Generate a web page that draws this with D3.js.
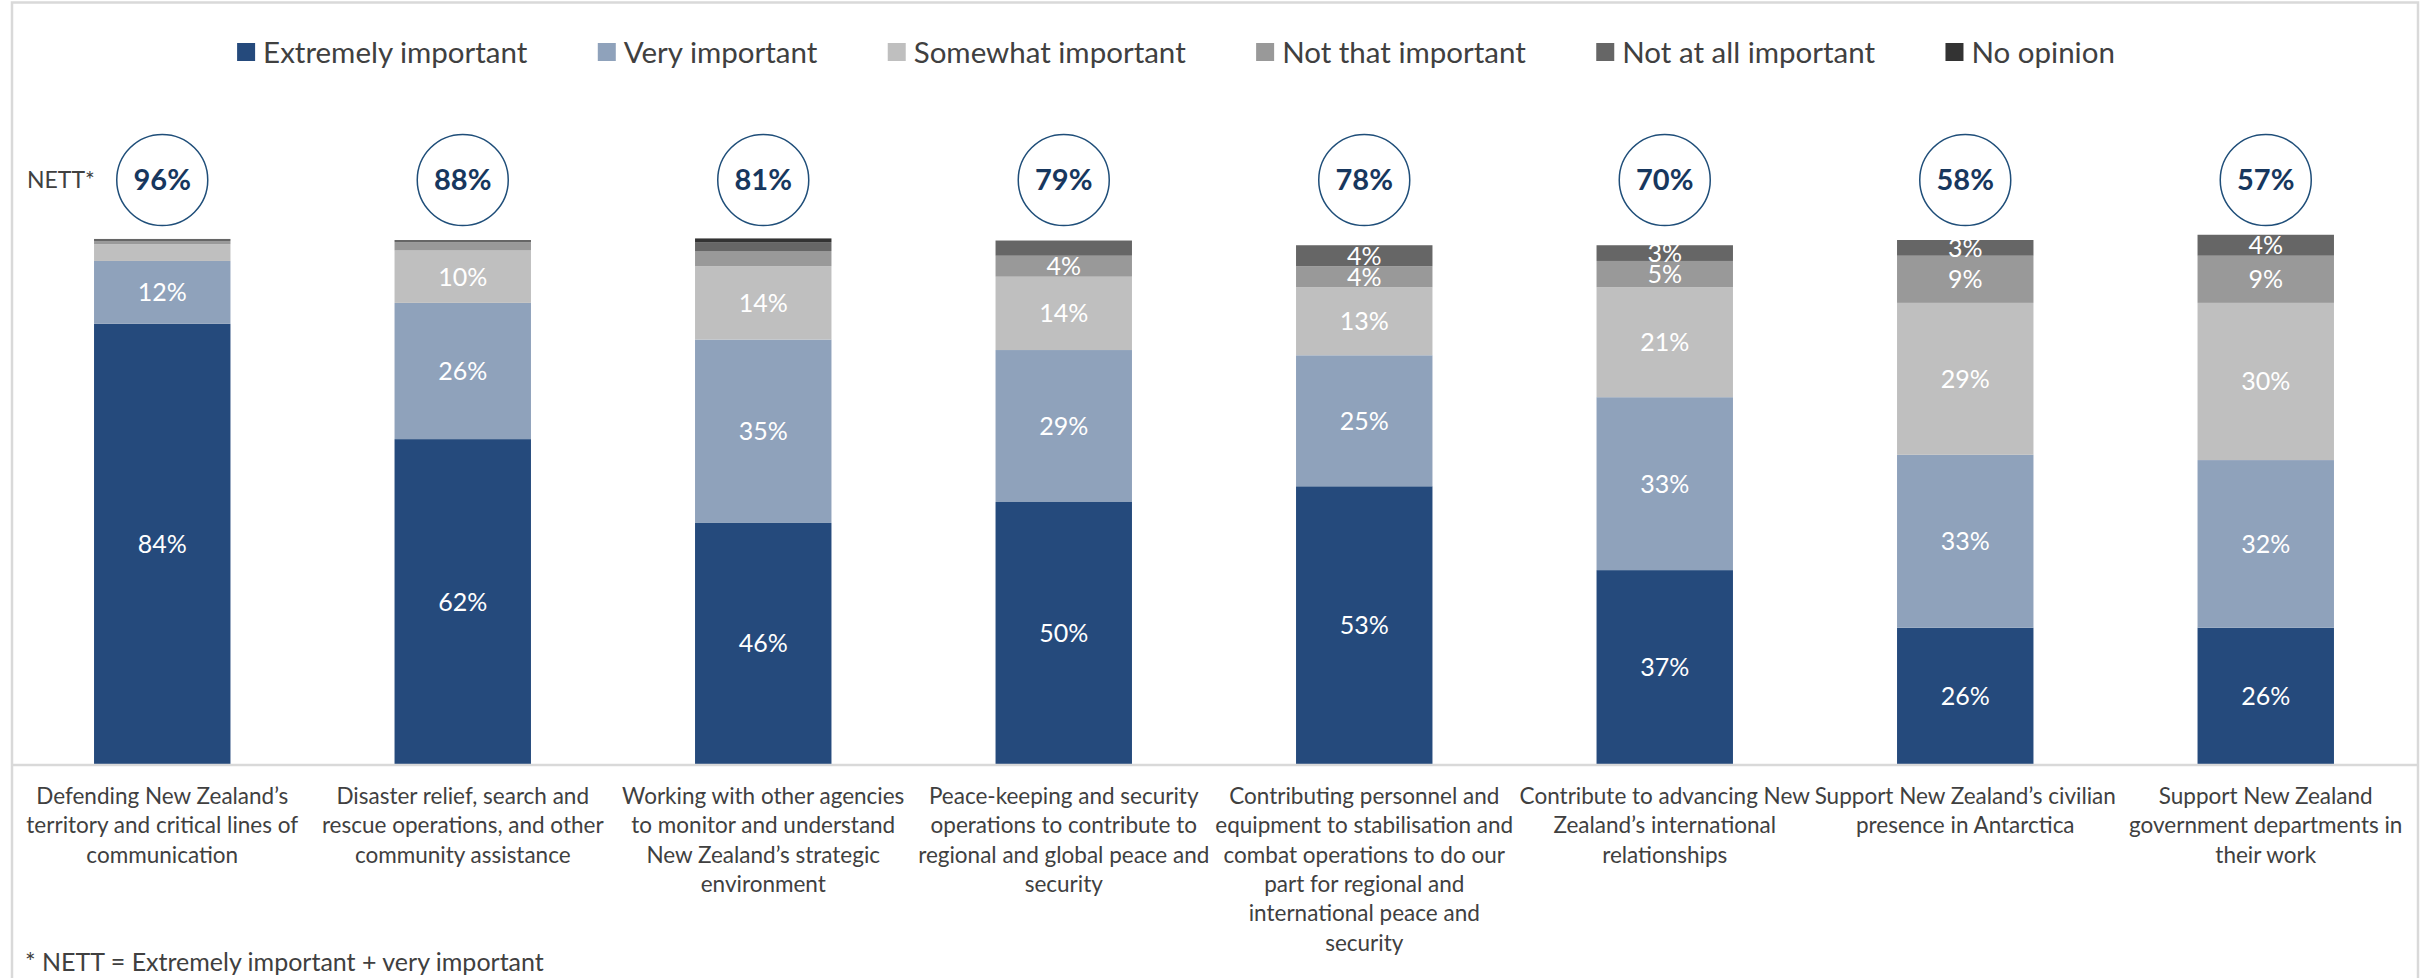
<!DOCTYPE html>
<html>
<head>
<meta charset="utf-8">
<script src="https://cdn.jsdelivr.net/npm/d3@7/dist/d3.min.js"></script>
<style>
  html, body { margin: 0; padding: 0; background: #ffffff; }
  svg { display: block; font-family: Lato, "Open Sans", sans-serif; }
</style>
</head>
<body>
<svg id="chart" width="2425" height="978"></svg>
<script>
// Roles of the NZ Defence Force — importance ratings (%)
const categories = [
  ["Defending New Zealand’s", "territory and critical lines of", "communication"],
  ["Disaster relief, search and", "rescue operations, and other", "community assistance"],
  ["Working with other agencies", "to monitor and understand", "New Zealand’s strategic", "environment"],
  ["Peace-keeping and security", "operations to contribute to", "regional and global peace and", "security"],
  ["Contributing personnel and", "equipment to stabilisation and", "combat operations to do our", "part for regional and", "international peace and", "security"],
  ["Contribute to advancing New", "Zealand’s international", "relationships"],
  ["Support New Zealand’s civilian", "presence in Antarctica"],
  ["Support New Zealand", "government departments in", "their work"]
];

const seriesNames = ["Extremely important", "Very important", "Somewhat important",
                     "Not that important", "Not at all important", "No opinion"];

const extremelyImportant = [84, 62, 46, 50, 53, 37, 26, 26];
const veryImportant      = [12, 26, 35, 29, 25, 33, 33, 32];
const somewhatImportant  = [3.2, 10, 14, 14, 13, 21, 29, 30];
const notThatImportant   = [0.6, 1.6, 2.9, 4, 4, 5, 9, 9];
const notAtAllImportant  = [0.4, 0.4, 1.7, 2.9, 4, 3, 3, 4];
const noOpinion          = [0, 0, 0.7, 0, 0, 0, 0, 0];

const nett = [96, 88, 81, 79, 78, 70, 58, 57];

// segments that carry no value label: [category index, series index]
const unlabelled = [[0, 2], [0, 3], [0, 4], [1, 3], [1, 4], [2, 3], [2, 4], [2, 5], [3, 4]];

const footnote = "* NETT = Extremely important + very important";
const nettLabel = "NETT*";

const colors = ["#254a7c", "#8fa2bb", "#bfbfbf", "#999999", "#666666", "#333333"];

const seriesValues = [extremelyImportant, veryImportant, somewhatImportant,
                      notThatImportant, notAtAllImportant, noOpinion];

const rows = categories.map((c, i) => {
  const r = { idx: i };
  seriesNames.forEach((s, j) => { r[s] = seriesValues[j][i]; });
  return r;
});

const svg = d3.select("#chart");

// outer frame
svg.append("rect")
  .attr("x", 12).attr("y", 2.5)
  .attr("width", 2406).attr("height", 990)
  .attr("fill", "none").attr("stroke", "#d9d9d9").attr("stroke-width", 2.5);

const x = d3.scaleBand()
  .domain(d3.range(categories.length))
  .range([12, 2416])
  .paddingInner(0.546)
  .paddingOuter(0.273);

const y = d3.scaleLinear().domain([0, 100]).range([764, 240]);

const stack = d3.stack().keys(seriesNames);
const layers = stack(rows);

const hidden = new Set(unlabelled.map(d => d[0] + "|" + d[1]));

const gBars = svg.append("g");
layers.forEach((layer, j) => {
  const g = gBars.append("g").attr("fill", colors[j]);
  g.selectAll("rect")
    .data(layer.filter(d => d[1] - d[0] > 0))
    .join("rect")
    .attr("x", d => x(d.data.idx))
    .attr("width", x.bandwidth())
    .attr("y", d => y(d[1]))
    .attr("height", d => y(d[0]) - y(d[1]));
});

// value labels
const gLabels = svg.append("g")
  .attr("fill", "#ffffff")
  .attr("font-size", 25)
  .attr("text-anchor", "middle");
layers.forEach((layer, j) => {
  gLabels.selectAll(null)
    .data(layer.filter(d => !hidden.has(d.data.idx + "|" + j) && d[1] - d[0] > 0))
    .join("text")
    .attr("x", d => x(d.data.idx) + x.bandwidth() / 2)
    .attr("y", d => (y(d[0]) + y(d[1])) / 2)
    .attr("dy", "0.36em")
    .text(d => Math.round(d[1] - d[0]) + "%");
});

// baseline axis
svg.append("line")
  .attr("x1", 12).attr("x2", 2418)
  .attr("y1", y(0) + 1).attr("y2", y(0) + 1)
  .attr("stroke", "#d9d9d9").attr("stroke-width", 2.5);

// category labels
const xAxis = svg.append("g").attr("fill", "#404040").attr("font-size", 22.5).attr("text-anchor", "middle");
categories.forEach((lines, i) => {
  const t = xAxis.append("text")
    .attr("x", x(i) + x.bandwidth() / 2)
    .attr("y", 804);
  lines.forEach((ln, k) => {
    t.append("tspan")
      .attr("x", x(i) + x.bandwidth() / 2)
      .attr("dy", k === 0 ? 0 : 29.3)
      .text(ln);
  });
});

// NETT circles
const gNett = svg.append("g");
gNett.selectAll("circle")
  .data(nett)
  .join("circle")
  .attr("cx", (d, i) => x(i) + x.bandwidth() / 2)
  .attr("cy", 180)
  .attr("r", 45.5)
  .attr("fill", "#ffffff")
  .attr("stroke", "#1f4e79")
  .attr("stroke-width", 1.5);
gNett.selectAll("text")
  .data(nett)
  .join("text")
  .attr("x", (d, i) => x(i) + x.bandwidth() / 2)
  .attr("y", 180)
  .attr("dy", "0.36em")
  .attr("text-anchor", "middle")
  .attr("font-size", 29)
  .attr("font-weight", 700)
  .attr("fill", "#17375e")
  .text(d => d + "%");

svg.append("text")
  .attr("x", 27).attr("y", 180).attr("dy", "0.36em")
  .attr("font-size", 23).attr("fill", "#404040")
  .text(nettLabel);

// footnote
svg.append("text")
  .attr("x", 25).attr("y", 971)
  .attr("font-size", 25).attr("fill", "#404040")
  .text(footnote);

// legend
const legend = svg.append("g").attr("font-size", 29.5).attr("fill", "#404040");
const items = legend.selectAll("g")
  .data(seriesNames)
  .join("g");
items.append("rect")
  .attr("width", 18).attr("height", 18)
  .attr("y", 43)
  .attr("fill", (d, i) => colors[i]);
items.append("text")
  .attr("x", 26).attr("y", 52).attr("dy", "0.36em")
  .text(d => d);
let cursor = 0;
const offsets = [];
items.each(function () {
  offsets.push(cursor);
  cursor += this.getBBox().width + 70;
});
const total = cursor - 70;
const startX = 1176 - total / 2;
items.attr("transform", (d, i) => `translate(${startX + offsets[i]},0)`);
</script>
</body>
</html>
